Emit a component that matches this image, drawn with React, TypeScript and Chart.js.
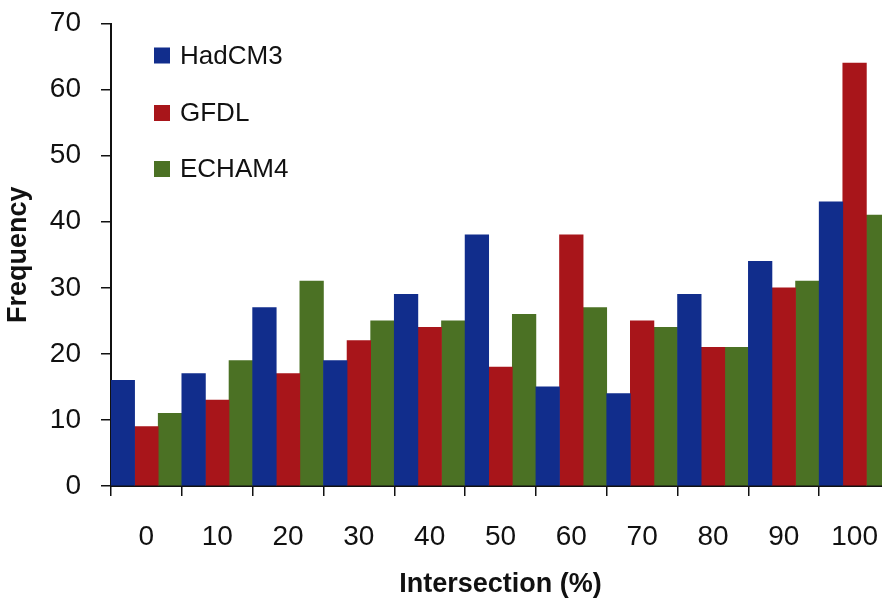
import React, { useEffect, useRef } from "react";
import { Chart, registerables } from "chart.js";

Chart.register(...registerables);

const categories = ["0", "10", "20", "30", "40", "50", "60", "70", "80", "90", "100"];
const hadcm3 = [16, 17, 27, 19, 29, 38, 15, 14, 29, 34, 43];
const gfdl = [9, 13, 17, 22, 24, 18, 38, 25, 21, 30, 64];
const echam4 = [11, 19, 31, 25, 25, 26, 27, 24, 21, 31, 41];
const seriesNames = ["HadCM3", "GFDL", "ECHAM4"];
const seriesColors = ["#112d8c", "#a8151a", "#4b7124"];
const yMin = 0;
const yMax = 70;
const yStep = 10;

const FONT = "'Liberation Sans', Arial, Helvetica, sans-serif";

const insideLegend = {
  id: "insideLegend",
  afterDatasetsDraw(chart: any) {
    const ctx = chart.ctx;
    const rows = [55.5, 113, 169];
    ctx.save();
    ctx.font = `26px ${FONT}`;
    ctx.textBaseline = "middle";
    ctx.textAlign = "left";
    chart.data.datasets.forEach((ds: any, i: number) => {
      const cy = rows[i];
      ctx.fillStyle = ds.backgroundColor;
      ctx.fillRect(154, cy - 8, 16, 16);
      ctx.fillStyle = "#111";
      ctx.fillText(ds.label, 180, cy + 1);
    });
    ctx.restore();
  },
};

export default function App() {
  const ref = useRef<HTMLCanvasElement>(null);
  useEffect(() => {
    if (!ref.current) return;
    const chart = new Chart(ref.current, {
      type: "bar",
      data: {
        labels: categories,
        datasets: [hadcm3, gfdl, echam4].map((d, i) => ({
          label: seriesNames[i],
          data: d,
          backgroundColor: seriesColors[i],
          borderWidth: 0,
          barPercentage: 1,
          categoryPercentage: 1,
        })),
      },
      options: {
        responsive: false,
        animation: false,
        devicePixelRatio: 1,
        layout: { padding: { top: 23.5, left: 0, right: 0, bottom: 0 } },
        plugins: { legend: { display: false }, tooltip: { enabled: false } },
        scales: {
          x: {
            grid: {
              display: true,
              drawOnChartArea: false,
              drawTicks: true,
              tickLength: 10,
              color: "#111",
              lineWidth: 1.5,
              offset: true,
            },
            border: { display: true, color: "#111", width: 2 },
            ticks: {
              font: { size: 28, family: FONT },
              color: "#111",
              padding: 24,
              maxRotation: 0,
              autoSkip: false,
            },
            title: {
              display: true,
              text: "Intersection (%)",
              font: { size: 27, weight: "bold", family: FONT },
              color: "#111",
              padding: { top: 0, bottom: 1.5 },
            },
            afterFit(scale: any) {
              scale.height = 116;
              scale.paddingLeft = 0;
              scale.paddingRight = 0;
            },
          },
          y: {
            min: yMin,
            max: yMax,
            ticks: {
              stepSize: yStep,
              font: { size: 28, family: FONT },
              color: "#111",
              padding: 20,
            },
            grid: {
              drawOnChartArea: false,
              drawTicks: true,
              tickLength: 10,
              color: "#111",
              lineWidth: 1.5,
            },
            border: { display: true, color: "#111", width: 2 },
            title: {
              display: true,
              text: "Frequency",
              font: { size: 27, weight: "bold", family: FONT },
              color: "#111",
              padding: { top: 2, bottom: 0 },
            },
            afterFit(scale: any) {
              scale.width = 111;
              scale.paddingTop = 0;
              scale.paddingBottom = 0;
            },
          },
        },
      },
      plugins: [insideLegend],
    } as any);
    return () => chart.destroy();
  }, []);

  return (
    <div
      style={{
        position: "absolute",
        left: 0,
        top: 0,
        width: 882,
        height: 602,
        overflow: "hidden",
        background: "#fff",
      }}
    >
      <canvas ref={ref} width={890} height={602} style={{ display: "block" }} />
    </div>
  );
}
